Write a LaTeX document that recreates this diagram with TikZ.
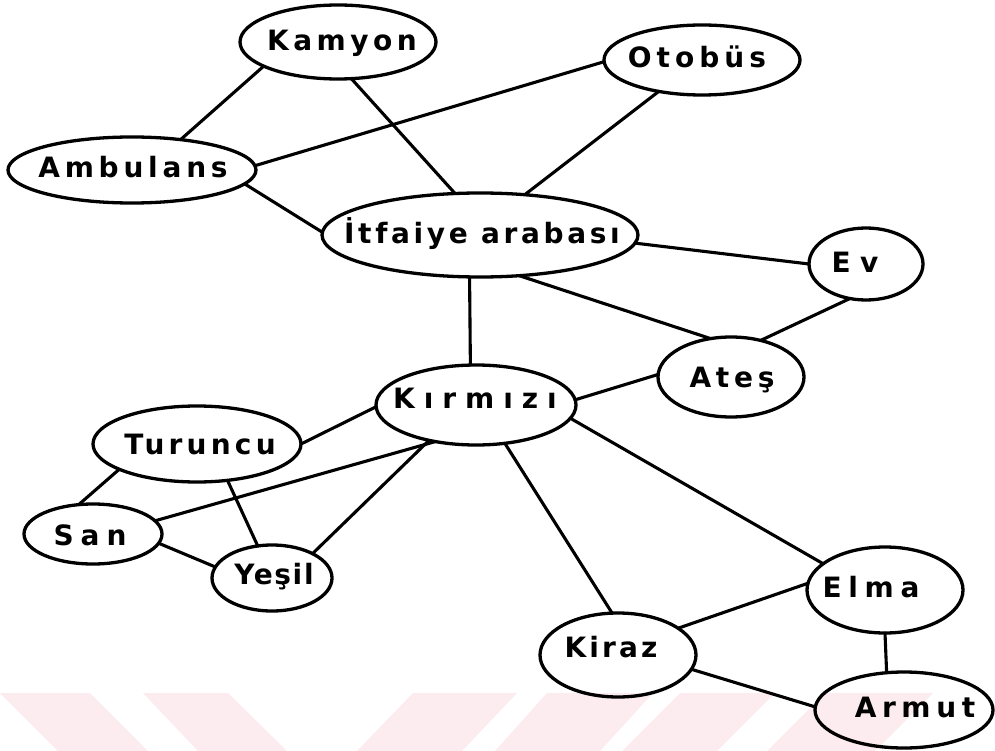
\documentclass[tikz,border=0pt]{standalone}
\usepackage{fontspec}
\newfontfamily\lblfont{DejaVu Sans Bold}
\usetikzlibrary{shapes.geometric}
\definecolor{wm}{RGB}{252,235,239}
\newcommand\lbltext[2]{{\lblfont\addfontfeature{LetterSpace=#1}#2}}
\begin{document}
\begin{tikzpicture}[x=1pt,y=-1pt,
  ell/.style={ellipse, draw=black, line width=3.3pt, inner sep=0pt, outer sep=0pt},
  lbl/.style={inner sep=0pt, font=\fontsize{28}{32}\selectfont},
  edge/.style={draw=black, line width=3.1pt, line cap=round},
  wmk/.style={fill=wm, draw=none}]
\useasboundingbox (0,0) rectangle (995,751);
% watermark
\fill[wmk] (0,693) -- (90,693) -- (148,751) -- (58,751) -- cycle;
\fill[wmk] (143,693) -- (228,693) -- (287,751) -- (198,751) -- cycle;
\fill[wmk] (413,693) -- (517,693) -- (462,751) -- (357,751) -- cycle;
\fill[wmk] (547,693) -- (653,693) -- (600,751) -- (495,751) -- cycle;
\fill[wmk] (680,693) -- (775,693) -- (717,751) -- (622,751) -- cycle;
\fill[wmk] (825,693) -- (933,693) -- (875,751) -- (767,751) -- cycle;
% ellipses
\node[ell, minimum width=196pt, minimum height=74pt] (kam) at (338,42) {};
\node[ell, minimum width=248pt, minimum height=66pt] (amb) at (132,170) {};
\node[ell, minimum width=316pt, minimum height=84pt] (itf) at (480,235) {};
\node[ell, minimum width=196pt, minimum height=70pt] (oto) at (702,60) {};
\node[ell, minimum width=114pt, minimum height=72pt] (ev) at (866,264) {};
\node[ell, minimum width=146pt, minimum height=80pt] (ate) at (731,377) {};
\node[ell, minimum width=200pt, minimum height=80pt] (kir) at (476,405) {};
\node[ell, minimum width=208pt, minimum height=76pt] (tur) at (197,444) {};
\node[ell, minimum width=138pt, minimum height=60pt] (sar) at (93,534) {};
\node[ell, minimum width=120pt, minimum height=66pt] (yes) at (272,578) {};
\node[ell, minimum width=156pt, minimum height=86pt] (elm) at (885,590) {};
\node[ell, minimum width=156pt, minimum height=84pt] (kiz) at (618,655) {};
\node[ell, minimum width=178pt, minimum height=76pt] (arm) at (904,710) {};
% labels
\node[lbl] (kamT) at (342,43) {\lbltext{16}{Kamyon}};
\node[lbl] (ambT) at (133,167) {\lbltext{17}{Ambulans}};
\node[lbl] (otoT) at (697,57) {\lbltext{18}{Otobüs}};
\node[lbl] (itfT) at (482,234) {\lbltext{13}{İtfaiye arabası}};
\node[lbl] (evT) at (855,262) {\lbltext{34}{Ev}};
\node[lbl] (ateT) at (732,380) {\lbltext{17}{Ateş}};
\node[lbl] (kirT) at (475,398) {\lbltext{32}{Kırmızı}};
\node[lbl] (turT) at (200,444) {\lbltext{15}{Turuncu}};
\node[lbl] (sarT) at (90,535) {\lbltext{25}{San}};
\node[lbl] (yesT) at (274,577) {\lbltext{6}{Yeşil}};
\node[lbl] (elmT) at (871,587) {\lbltext{24}{Elma}};
\node[lbl] (kizT) at (611,647) {\lbltext{11}{Kiraz}};
\node[lbl] (armT) at (915,707) {\lbltext{20}{Armut}};
% edges
\draw[edge] (kam.198) -- (amb.32);
\draw[edge] (kam.290) -- (itf.121);
\draw[edge] (amb.2) -- (oto.181);
\draw[edge] (amb.353) -- (itf.179);
\draw[edge] (oto.216) -- (itf.42);
\draw[edge] (itf.357.5) -- (ev.180);
\draw[edge] (itf.314) -- (ate.118);
\draw[edge] (ev.245) -- (ate.51);
\draw[edge] (itf.256.6) -- (kir.98.5);
\draw[edge] (kir.3.5) -- (ate.178);
\draw[edge] (kir.181) -- (tur.0);
\draw[edge] (kir.222) -- (sar.12);
\draw[edge] (kir.217) -- (yes.31);
\draw[edge] (tur.198) -- (sar.116);
\draw[edge] (tur.310) -- (yes.114);
\draw[edge] (sar.352) -- (yes.169);
\draw[edge] (kir.307) -- (kiz.98);
\draw[edge] (kir.352) -- (elm.157);
\draw[edge] (kiz.24) -- (elm.175);
\draw[edge] (elm.270) -- (arm.115);
\draw[edge] (kiz.349) -- (arm.178);
\end{tikzpicture}
\end{document}
